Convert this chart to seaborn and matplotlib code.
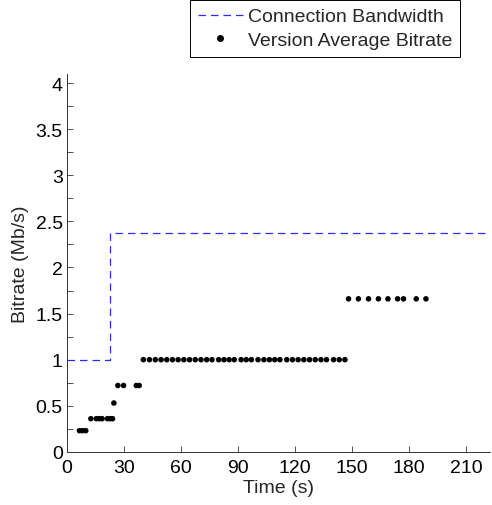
import numpy as np
import pandas as pd
import matplotlib
matplotlib.use("Agg")
import matplotlib.pyplot as plt
import seaborn as sns
from matplotlib.lines import Line2D

# ---- data ----
bw_time = [0.0, 22.6, 220.0]
bw_value = [1.0, 2.37, 2.37]

dot_time = [6.6, 8.2, 9.9,
            12.6, 15.5, 17.0, 18.5, 21.3, 22.7, 24.0,
            24.7,
            26.8, 29.8, 36.5, 38.0,
            40.2, 43.4, 46.5, 49.5, 52.5, 55.5, 58.5, 61.5, 64.5, 67.5, 70.5, 73.5,
            76.3, 79.8, 82.6, 85.3, 88.0, 91.6, 94.3, 97.0, 100.5, 103.6, 106.5,
            109.3, 112.0, 115.6, 118.6, 121.6, 124.6, 127.6, 130.6, 133.6, 136.5,
            140.2, 143.2, 146.2,
            148.1, 153.3, 158.6, 163.8, 168.8, 173.9, 177.0, 183.7, 188.8]
dot_value = ([0.23] * 3 + [0.36] * 7 + [0.53] + [0.72] * 4 + [1.0] * 36 + [1.66] * 9)

x_ticks = [0, 30, 60, 90, 120, 150, 180, 210]
y_labels = ["0", "0.5", "1", "1.5", "2", "2.5", "3", "3.5", "4"]

sns.set_theme(style="white")
plt.rcParams['font.family'] = ['Liberation Sans', 'DejaVu Sans']
FS = 14

fig = plt.figure(figsize=(4.92, 5.06), dpi=100)
ax = fig.add_axes([0.136, 0.105, 0.860, 0.747])

bw_df = pd.DataFrame({"t": bw_time, "v": bw_value})
sns.lineplot(data=bw_df, x="t", y="v", ax=ax, color="#2a2aff", linewidth=0.9,
             estimator=None, sort=False, drawstyle="steps-post",
             dashes=False, linestyle=(0, (6, 4)))

dot_df = pd.DataFrame({"t": dot_time, "v": dot_value})
sns.scatterplot(data=dot_df, x="t", y="v", ax=ax, color="black", s=16,
                edgecolor="none", linewidth=0)

ax.set_xlim(0, 222.5)
ax.set_ylim(0, 4.1)
ax.set_xticks(x_ticks)
ax.set_xticklabels([str(v) for v in x_ticks])
ax.set_yticks(np.arange(0, 4.01, 0.5))
ax.set_yticklabels(y_labels)
ax.set_yticks(np.arange(0.25, 4.01, 0.5), minor=True)
ax.tick_params(which="both", direction="in", length=4, width=0.6, color="#333333",
               labelsize=FS, labelcolor="black", pad=2)
ax.tick_params(axis="x", bottom=True, pad=5)
ax.tick_params(axis="y", which="both", left=True, pad=3)
for s in ["top", "right"]:
    ax.spines[s].set_visible(False)
for s in ["left", "bottom"]:
    ax.spines[s].set_color("#333333")
    ax.spines[s].set_linewidth(0.7)
ax.set_xlabel("Time (s)", fontsize=FS, labelpad=2)
ax.set_ylabel("Bitrate (Mb/s)", fontsize=FS, labelpad=5)

handles = [Line2D([0], [0], color="#2a2aff", linewidth=0.9, linestyle=(0, (6, 4))),
           Line2D([0], [0], color="black", marker="o", markersize=4, linestyle="none")]
leg = fig.legend(handles, ["Connection Bandwidth", "Version Average Bitrate"],
                 loc="upper left", bbox_to_anchor=(190 / 492, 1 - 1 / 506), fontsize=FS,
                 frameon=True, fancybox=False, edgecolor="black", framealpha=1,
                 handlelength=2.3, handletextpad=0.3, borderpad=0.4,
                 labelspacing=0.3, borderaxespad=0)
leg.get_frame().set_linewidth(0.7)

fig.savefig("out.png", dpi=100)
